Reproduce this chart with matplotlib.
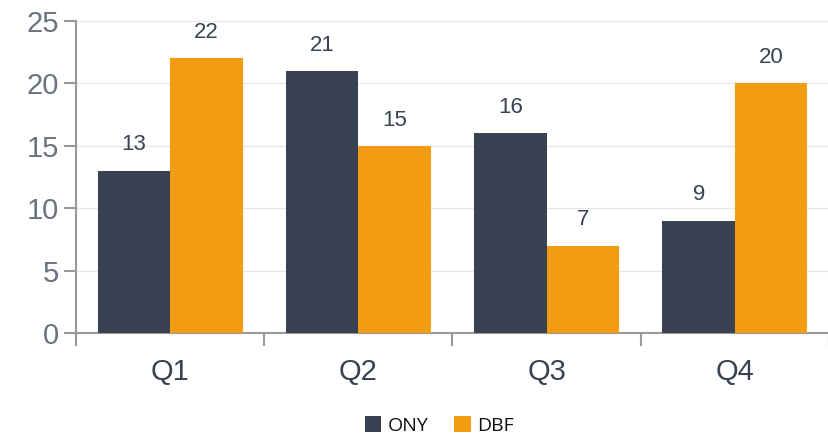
import matplotlib
matplotlib.use("Agg")
import matplotlib.pyplot as plt
import numpy as np

categories = ["Q1", "Q2", "Q3", "Q4"]
ony = [13, 21, 16, 9]
dbf = [22, 15, 7, 20]
yticks = [0, 5, 10, 15, 20, 25]

plt.rcParams['font.family'] = ['Liberation Sans', 'DejaVu Sans']

fig = plt.figure(figsize=(8.29, 4.37), dpi=100)
ax = fig.add_axes([76/829, (437-333)/437, (829-76)/829, 312/437])

x = np.arange(len(categories))
w = 0.385
c1, c2 = "#394253", "#f39c12"
b1 = ax.bar(x - w/2, ony, w, color=c1, label="ONY", zorder=3)
b2 = ax.bar(x + w/2, dbf, w, color=c2, label="DBF", zorder=3)

for bars, vals in ((b1, ony), (b2, dbf)):
    for r, v in zip(bars, vals):
        ax.annotate(str(v), (r.get_x() + r.get_width()/2, v), xytext=(0, 11),
                    textcoords="offset points", ha="center", va="bottom",
                    fontsize=16, color="#394253")

ax.set_xlim(-0.5, 3.5)
ax.set_ylim(0, 25)
ax.set_yticks(yticks)
ax.set_yticklabels([str(t) for t in yticks], fontsize=21, color="#6b7280")
ax.set_xticks(x)
ax.set_xticklabels(categories, fontsize=21, color="#394253")
ax.set_xticks(np.arange(-0.5, 4.0, 1.0), minor=True)
ax.tick_params(axis="x", which="major", length=0, pad=18)
ax.tick_params(axis="x", which="minor", length=9, width=1.5, color="#999999", direction="out")
ax.tick_params(axis="y", length=9, width=1.5, color="#999999", pad=3)
ax.grid(axis="y", color="#e5e7eb", linewidth=1, zorder=0)
for s in ("top", "right"):
    ax.spines[s].set_visible(False)
for s in ("left", "bottom"):
    ax.spines[s].set_color("#999999")
    ax.spines[s].set_linewidth(1.5)

leg = fig.legend(handles=[b1, b2], loc="lower center", bbox_to_anchor=(0.53, -0.035),
                 ncol=2, frameon=False, handlelength=0.85, handleheight=0.85,
                 handletextpad=0.35, columnspacing=1.3,
                 prop={'family': ['Open Sans', 'DejaVu Sans'], 'size': 14})
for t in leg.get_texts():
    t.set_color("#111111")

fig.savefig("out.png", dpi=100)
